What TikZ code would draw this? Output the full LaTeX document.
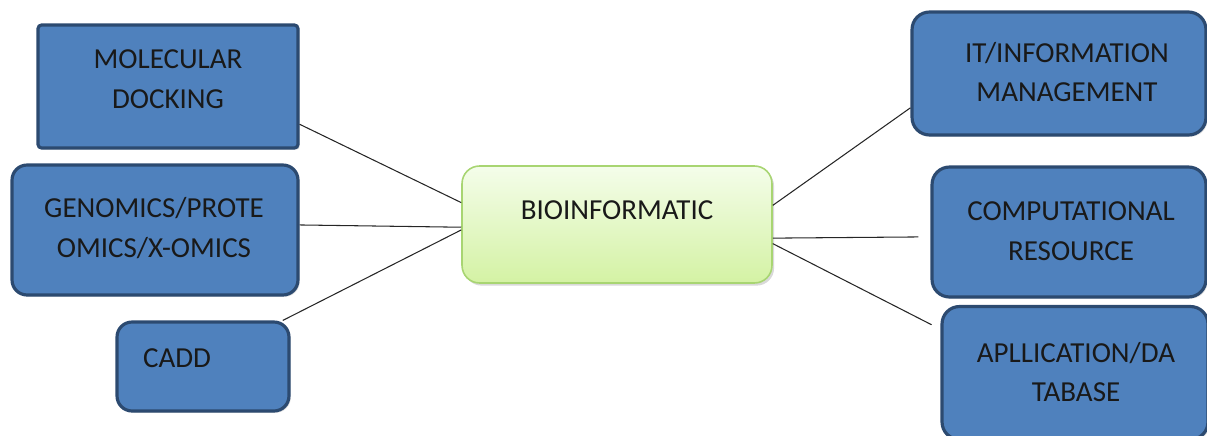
\documentclass[tikz,border=0pt]{standalone}
\usepackage{fontspec}
\setmainfont{Carlito}
\usetikzlibrary{shadows}
\definecolor{boxblue}{HTML}{4F81BD}
\definecolor{boxedge}{HTML}{2C4A70}
\definecolor{biotop}{HTML}{F4FDEA}
\definecolor{biobot}{HTML}{D4F2A4}
\definecolor{bioedge}{HTML}{A8D572}
\begin{document}
\begin{tikzpicture}[x=0.02cm,y=-0.02cm,
  topic/.style={draw=boxedge,line width=1.8pt,fill=boxblue,inner sep=0pt,
    drop shadow={opacity=0.25,shadow xshift=1pt,shadow yshift=-1pt}},
  centre/.style={draw=bioedge,line width=0.9pt,top color=biotop,bottom color=biobot,
    rounded corners=0.35cm,inner sep=0pt,
    drop shadow={opacity=0.3,shadow xshift=1.2pt,shadow yshift=-1.5pt}},
  word/.style={font=\fontsize{16.5}{22.5}\selectfont,align=center,text=black!90},
  link/.style={draw=black!85,line width=0.6pt}]
\clip (0,0) rectangle (1207,436);
% boxes
\node[topic,rounded corners=2pt,minimum width=5.2cm,minimum height=2.46cm] (mol) at (168,86.5) {};
\node[topic,rounded corners=0.3cm,minimum width=5.72cm,minimum height=2.6cm] (gen) at (155,230) {};
\node[topic,rounded corners=0.3cm,minimum width=3.44cm,minimum height=1.78cm] (cadd) at (203,366.5) {};
\node[centre,minimum width=6.2cm,minimum height=2.34cm] (bio) at (617,224.5) {};
\node[topic,rounded corners=0.35cm,minimum width=5.88cm,minimum height=2.46cm] (it) at (1059,73.5) {};
\node[topic,rounded corners=0.35cm,minimum width=5.48cm,minimum height=2.6cm] (comp) at (1069,232) {};
\node[topic,rounded corners=0.35cm,minimum width=5.32cm,minimum height=2.66cm] (app) at (1075,373) {};
% texts
\node[word] (molT) at (168,79) {MOLECULAR\\DOCKING};
\node[word] (genT) at (154,228) {GENOMICS/PROTE\\OMICS/X-OMICS};
\node[word] (caddT) at (177,358) {CADD};
\node[word] (bioT) at (617,210) {BIOINFORMATIC};
\node[word] (itT) at (1067,72) {IT/INFORMATION\\MANAGEMENT};
\node[word] (compT) at (1071,231) {COMPUTATIONAL\\RESOURCE};
\node[word] (appT) at (1076,372) {APLLICATION/DA\\TABASE};
% links
\draw[link] (mol.-16.5) -- (bio.172.8);
\draw[link] (gen.2) -- (bio.181.3);
\draw[link] (cadd.30) -- (bio.182.9);
\draw[link] (bio.7.9) -- (it.193.2);
\draw[link,shorten >=0.24cm] (bio.-5) -- (comp.182.9);
\draw[link,shorten >=0.2cm] (bio.-7.5) -- (app.162.1);
\end{tikzpicture}
\end{document}
